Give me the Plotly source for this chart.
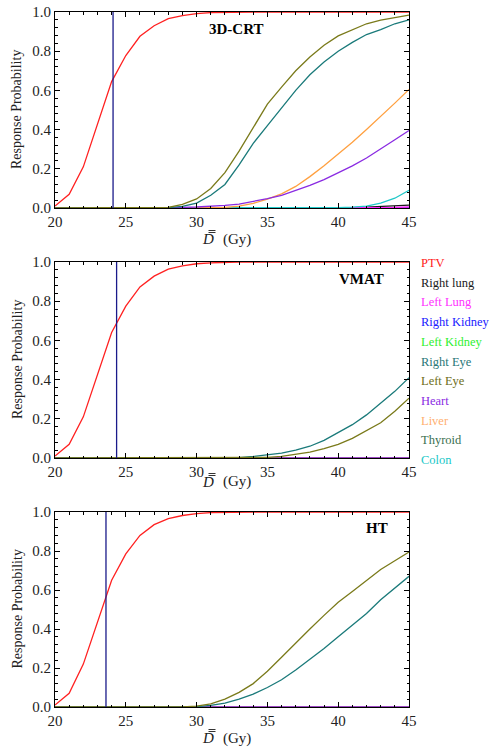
import plotly.graph_objects as go

dose = list(range(20, 46))

organs = ["PTV", "Right lung", "Left Lung", "Right Kidney", "Left Kidney", "Right Eye",
          "Left Eye", "Heart", "Liver", "Thyroid", "Colon"]
colors = ["#ff2020", "#1a1a1a", "#ff20ff", "#2020ff", "#20e020", "#1a7a7a",
          "#7a7a1a", "#8a2be2", "#ffa040", "#3a7050", "#20c8c8"]
legend_colors = ["#ff2020", "#1a1a1a", "#ff30ff", "#2020ff", "#30f030", "#2a7878",
                 "#6e6e20", "#8a2be2", "#ffb070", "#3a7050", "#20c8c8"]

zero = [0.0] * 26

ptv_crt = [0.01, 0.07, 0.21, 0.43, 0.645, 0.778, 0.876, 0.93, 0.966, 0.982, 0.992, 0.997, 0.999,
           1, 1, 1, 1, 1, 1, 1, 1, 1, 1, 1, 1, 1]
ptv_vmat = [0.01, 0.07, 0.21, 0.43, 0.64, 0.775, 0.873, 0.928, 0.964, 0.98, 0.991, 0.996, 0.999,
            1, 1, 1, 1, 1, 1, 1, 1, 1, 1, 1, 1, 1]
ptv_ht = [0.01, 0.07, 0.22, 0.44, 0.65, 0.785, 0.88, 0.935, 0.966, 0.982, 0.992, 0.997, 0.999,
          1, 1, 1, 1, 1, 1, 1, 1, 1, 1, 1, 1, 1]

# 3D-CRT
crt_rlung = [0] * 20 + [0.001, 0.002, 0.004, 0.007, 0.01, 0.015]
crt_llung = [0] * 22 + [0.001, 0.002, 0.003, 0.005]
crt_reye = [0, 0, 0, 0, 0, 0, 0, 0, 0.002, 0.008, 0.025, 0.065, 0.12, 0.22, 0.33, 0.42, 0.51,
            0.6, 0.68, 0.745, 0.8, 0.845, 0.885, 0.91, 0.94, 0.96]
crt_leye = [0, 0, 0, 0, 0, 0, 0, 0, 0.003, 0.018, 0.046, 0.1, 0.18, 0.29, 0.41, 0.53, 0.617,
            0.7, 0.77, 0.83, 0.878, 0.91, 0.94, 0.958, 0.972, 0.984]
crt_heart = [0, 0, 0, 0, 0, 0, 0, 0, 0.001, 0.003, 0.005, 0.008, 0.013, 0.02, 0.033, 0.048,
             0.065, 0.088, 0.115, 0.145, 0.178, 0.215, 0.255, 0.3, 0.348, 0.395]
crt_liver = [0, 0, 0, 0, 0, 0, 0, 0, 0, 0, 0, 0.001, 0.003, 0.01, 0.024, 0.045, 0.072, 0.11,
             0.16, 0.215, 0.275, 0.335, 0.4, 0.465, 0.535, 0.605]
crt_colon = [0] * 20 + [0.002, 0.004, 0.01, 0.025, 0.05, 0.09]

# VMAT
vmat_reye = [0] * 13 + [0.002, 0.008, 0.015, 0.025, 0.04, 0.06, 0.09, 0.128, 0.17, 0.22,
                        0.28, 0.34, 0.41]
vmat_leye = [0] * 15 + [0.003, 0.008, 0.018, 0.03, 0.048, 0.07, 0.1, 0.138, 0.18, 0.238, 0.305]

# HT
ht_reye = [0] * 10 + [0.002, 0.008, 0.02, 0.04, 0.066, 0.1, 0.14, 0.19, 0.243, 0.3, 0.36,
                      0.42, 0.48, 0.55, 0.61, 0.67]
ht_leye = [0] * 10 + [0.005, 0.016, 0.04, 0.075, 0.12, 0.183, 0.255, 0.33, 0.4, 0.47, 0.537,
                      0.592, 0.65, 0.705, 0.75, 0.795]

panels = [
    ("3D-CRT", [ptv_crt, crt_rlung, crt_llung, zero, zero, crt_reye, crt_leye, crt_heart,
                crt_liver, zero, crt_colon]),
    ("VMAT", [ptv_vmat, zero, zero, zero, zero, vmat_reye, vmat_leye, zero, zero, zero, zero]),
    ("HT", [ptv_ht, zero, zero, zero, zero, ht_reye, ht_leye, zero, zero, zero, zero]),
]
vlines = [24.1, 24.35, 23.6]

W, H = 491, 749
x0, x1 = 55, 409
panel_px = [(12, 208), (262, 458), (512, 707)]
label_pos = [(0.51, 0.913), (0.867, 0.913), (0.91, 0.918)]
xtitle_off = [31, 24, 31]


def px(xp):
    return xp / W


def py(yp):
    return (H - yp) / H


fig = go.Figure()
font = "Liberation Serif"
order = [9, 4, 3, 1, 2, 10, 8, 7, 5, 6, 0]

for i, (label, series) in enumerate(panels):
    xa = "x" if i == 0 else f"x{i+1}"
    ya = "y" if i == 0 else f"y{i+1}"
    for k in order:
        fig.add_trace(go.Scatter(x=dose, y=series[k], mode="lines", name=organs[k],
                                 line=dict(color=colors[k], width=1.3),
                                 xaxis=xa, yaxis=ya, showlegend=False))
    fig.add_shape(type="line", x0=vlines[i], x1=vlines[i], y0=0, y1=1, xref=xa, yref=ya,
                  line=dict(color="#1a1a8a", width=1.3))
    fig.add_annotation(x=label_pos[i][0], y=label_pos[i][1], xref=f"{xa} domain",
                       yref=f"{ya} domain", text=f"<b>{label}</b>", showarrow=False,
                       font=dict(family=font, size=15, color="black"),
                       xanchor="center", yanchor="middle")
    top, bot = panel_px[i]
    dom_y = [py(bot), py(top)]
    axcommon = dict(showline=True, linecolor="black", linewidth=1, mirror="ticks",
                    ticks="inside", ticklen=5, tickcolor="black", showgrid=False, zeroline=False,
                    automargin=False, ticklabeloverflow="allow",
                    tickfont=dict(family=font, size=15, color="#222"))
    fig.layout[f"xaxis{'' if i == 0 else i+1}"] = dict(
        axcommon, domain=[px(x0), px(x1)], range=[20, 45], dtick=5, tick0=20,
        anchor=ya, minor=dict(dtick=1, ticks="inside", ticklen=2.5, tickcolor="black"))
    fig.layout[f"yaxis{'' if i == 0 else i+1}"] = dict(
        axcommon, domain=dom_y, range=[0, 1], dtick=0.2, tickformat=".1f",
        anchor=xa, minor=dict(dtick=0.04, ticks="inside", ticklen=2.5, tickcolor="black"))
    # y title
    fig.add_annotation(x=px(17), y=py((top + bot) / 2), xref="paper", yref="paper",
                       text="Response Probability", textangle=-90, showarrow=False,
                       xanchor="center", yanchor="middle",
                       font=dict(family=font, size=14, color="#222"))
    # x title:  D with double overbar, then (Gy)
    yc = bot + xtitle_off[i]
    fig.add_annotation(x=px(216), y=py(yc), xref="paper", yref="paper",
                       text="<i>D</i>", showarrow=False, xanchor="right", yanchor="middle",
                       font=dict(family=font, size=15, color="#222"))
    fig.add_annotation(x=px(221), y=py(yc), xref="paper", yref="paper",
                       text="(Gy)", showarrow=False, xanchor="left", yanchor="middle",
                       font=dict(family=font, size=15, color="#222"))
    for dy in (8.5, 6.5):
        fig.add_shape(type="line", xref="paper", yref="paper",
                      x0=px(208.5), x1=px(215.5), y0=py(yc - dy), y1=py(yc - dy),
                      line=dict(color="#333", width=1))

# colored text legend
leg_y0 = 263
leg_dy = 19.7
for k, name in enumerate(organs):
    fig.add_annotation(x=px(419), y=py(leg_y0 + k * leg_dy), xref="paper", yref="paper",
                       text=name, showarrow=False, xanchor="left", yanchor="middle",
                       font=dict(family=font, size=12.5, color=legend_colors[k]))

fig.update_layout(width=W, height=H, margin=dict(l=0, r=0, t=0, b=0),
                  paper_bgcolor="white", plot_bgcolor="white")

fig.write_html("out.html", config={"displayModeBar": False},
               post_script="document.body.style.margin='0px';")
